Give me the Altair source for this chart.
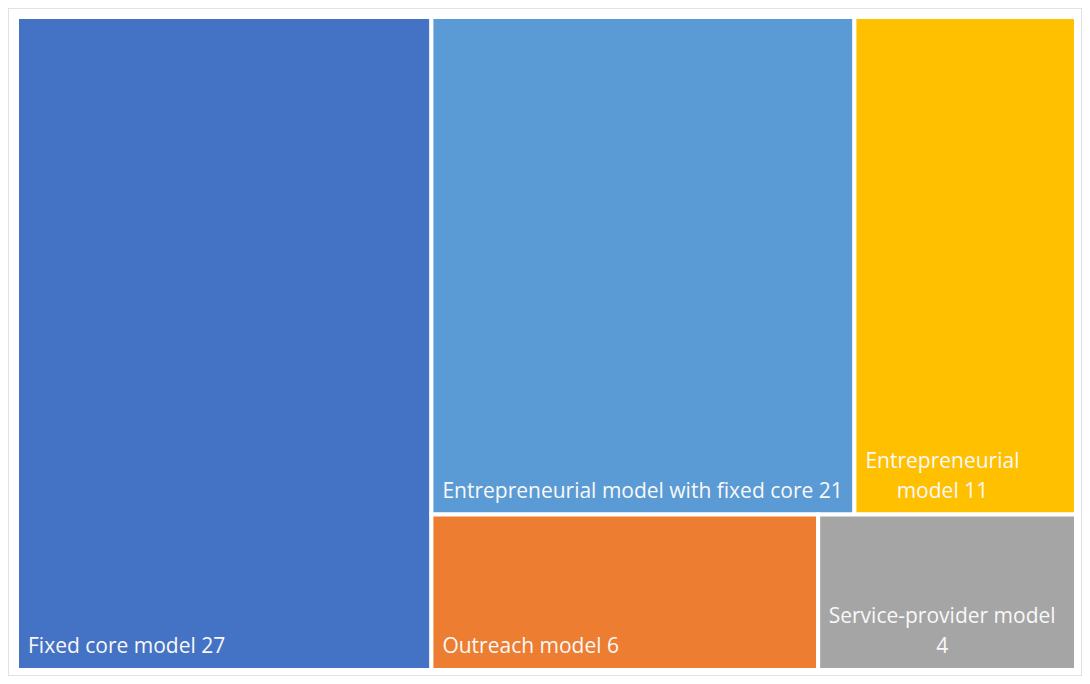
import altair as alt
import pandas as pd

categories = [
    "Fixed core model",
    "Entrepreneurial model with fixed core",
    "Entrepreneurial model",
    "Outreach model",
    "Service-provider model",
]
values = [27, 21, 11, 6, 4]
colors = ["#4472C4", "#5B9BD5", "#FFC000", "#ED7D31", "#A5A5A5"]
label_lines = [
    ["Fixed core model 27"],
    ["Entrepreneurial model with fixed core 21"],
    ["Entrepreneurial", "model 11"],
    ["Outreach model 6"],
    ["Service-provider model", "4"],
]

# Treemap layout computed from the values: first item is a full-height column,
# the rest are stacked in two rows ([1,2] and [3,4]).
total = sum(values)
rows = [[1, 2], [3, 4]]
rects = {}
rects[0] = (0.0, float(values[0]), 0.0, 1.0)
rest = total - values[0]
y_cursor = 0.0
for row in rows:
    row_sum = sum(values[i] for i in row)
    h = row_sum / rest
    x_cursor = float(values[0])
    for i in row:
        w = values[i] / row_sum * rest
        rects[i] = (x_cursor, x_cursor + w, y_cursor, y_cursor + h)
        x_cursor += w
    y_cursor += h

df = pd.DataFrame({
    "category": categories,
    "value": values,
    "x0": [rects[i][0] for i in range(len(values))],
    "x1": [rects[i][1] for i in range(len(values))],
    "y0": [rects[i][2] for i in range(len(values))],
    "y1": [rects[i][3] for i in range(len(values))],
    "label": ["\n".join(l) for l in label_lines],
})

xs = alt.Scale(domain=[0, total], range=[9, 1068])
ys = alt.Scale(domain=[0, 1], range=[9, 662])

base = alt.Chart(df)

rect = base.mark_rect(stroke="white", strokeWidth=4).encode(
    x=alt.X("x0:Q", scale=xs, axis=None),
    x2="x1:Q",
    y=alt.Y("y0:Q", scale=ys, axis=None),
    y2="y1:Q",
    color=alt.Color("category:N", scale=alt.Scale(domain=categories, range=colors), legend=None),
)

FONT = "Open Sans"
FS = 21

def label_layer(cat, dx, dy, align):
    return base.transform_filter(alt.datum.category == cat).mark_text(
        align=align, baseline="alphabetic", dx=dx, dy=dy, font=FONT, fontSize=FS,
        color="#F8F8F8", lineBreak="\n", lineHeight=30,
    ).encode(
        x=alt.X("x0:Q", scale=xs),
        y=alt.Y("y1:Q", scale=ys),
        text="label:N",
    )

layers = [
    rect,
    label_layer(categories[0], 11, -17, "left"),
    label_layer(categories[1], 11, -17, "left"),
    label_layer(categories[2], 88, -47, "center"),
    label_layer(categories[3], 11, -17, "left"),
    label_layer(categories[4], 124, -47, "center"),
]

chart = alt.layer(*layers).properties(
    width=1074, height=668,
    autosize=alt.AutoSizeParams(type="none"),
    padding=0,
).configure_view(stroke="#D9D9D9", strokeWidth=1.5)

chart.save("out.html", embed_options={"renderer": "svg", "actions": False})
